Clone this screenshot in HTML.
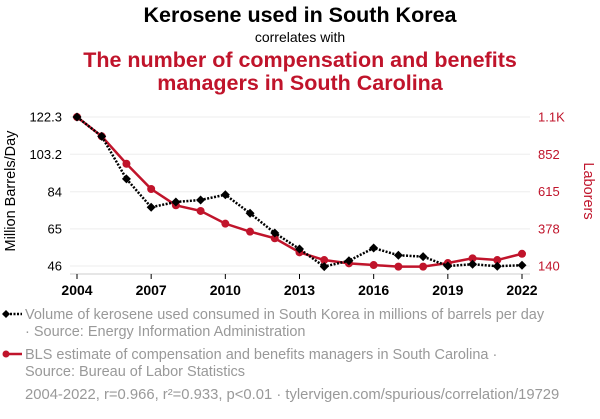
<!DOCTYPE html>
<html><head><meta charset="utf-8">
<style>
body{margin:0;background:#fff;width:600px;height:414px;overflow:hidden;font-family:"Liberation Sans",sans-serif;}
</style></head>
<body>
<svg width="600" height="414" viewBox="0 0 600 414" xmlns="http://www.w3.org/2000/svg">
<text x="300" y="22" text-anchor="middle" font-size="21.5" font-weight="bold" fill="#000">Kerosene used in South Korea</text>
<text x="300" y="42" text-anchor="middle" font-size="14" fill="#000">correlates with</text>
<text x="300" y="67" text-anchor="middle" font-size="21.5" font-weight="bold" fill="#c0142b">The number of compensation and benefits</text>
<text x="300" y="90" text-anchor="middle" font-size="21.5" font-weight="bold" fill="#c0142b">managers in South Carolina</text>
<g id="grid"></g>
<g id="axes"></g>
<g id="series"></g>
<text transform="translate(15,191) rotate(-90)" text-anchor="middle" font-size="14.5" fill="#000">Million Barrels/Day</text>
<text transform="translate(584,191) rotate(90)" text-anchor="middle" font-size="14.5" fill="#c0142b">Laborers</text>
<g>
<line x1="3" y1="314" x2="22" y2="314" stroke="#000" stroke-width="2.5" stroke-dasharray="2,1.5"/>
<path d="M6 310 L10 314 L6 318 L2 314Z" fill="#000"/>
<text x="25" y="319" font-size="14.5" fill="#999">Volume of kerosene used consumed in South Korea in millions of barrels per day</text>
<text x="25" y="336" font-size="14.5" fill="#999">· Source: Energy Information Administration</text>
</g>
<g>
<line x1="3" y1="354" x2="22" y2="354" stroke="#c0142b" stroke-width="2.5"/>
<circle cx="6" cy="354" r="3.5" fill="#c0142b"/>
<text x="25" y="359" font-size="14.5" fill="#999">BLS estimate of compensation and benefits managers in South Carolina ·</text>
<text x="25" y="376" font-size="14.5" fill="#999">Source: Bureau of Labor Statistics</text>
</g>
<text x="25" y="399" font-size="14.8" fill="#999">2004-2022, r=0.966, r²=0.933, p&lt;0.01 · tylervigen.com/spurious/correlation/19729</text>
</svg>
<script>
const years=[2004,2005,2006,2007,2008,2009,2010,2011,2012,2013,2014,2015,2016,2017,2018,2019,2020,2021,2022];
const kerosene=[122.3,112.4,90.6,76.1,78.8,79.8,82.5,73,62.9,54.7,45.7,48.7,55.2,51.5,50.8,46,46.9,45.9,46.4];
const managers=[1090,967,792,631,527,491,410,359,317,227,178,157,146,136,136,159,189,178,218];
const leftTicks=[46,65,84,103.2,122.3];
const leftTickLabels=["46","65","84","103.2","122.3"];
const rightTicks=[140,377.5,615,852.5,1090];
const rightTickLabels=["140","378","615","852","1.1K"];
const xTicks=[2004,2007,2010,2013,2016,2019,2022];
const NS="http://www.w3.org/2000/svg";
const X=v=>77+(v-2004)/(2022-2004)*445;
const YL=v=>266-(v-46)/(122.3-46)*149;
const YR=v=>266-(v-140)/(1090-140)*149;
function mk(tag,attrs,parent){const e=document.createElementNS(NS,tag);for(const k in attrs)e.setAttribute(k,attrs[k]);parent.appendChild(e);return e;}
const grid=document.getElementById('grid'),axes=document.getElementById('axes'),ser=document.getElementById('series');
leftTicks.forEach((t,i)=>{
  const y=YL(t);
  const g=mk('line',{x1:70,x2:530,y1:y,y2:y,stroke:'#eeeeee','stroke-width':1},grid);
  
  
  const tl=mk('text',{x:62,y:y+4.5,'text-anchor':'end','font-size':13,fill:'#000'},axes);
  tl.textContent=leftTickLabels[i];
  
  
});
rightTicks.forEach((t,i)=>{
  const y=YR(t);
  const tl=mk('text',{x:538,y:y+4.5,'text-anchor':'start','font-size':13,fill:'#c0142b'},axes);
  tl.textContent=rightTickLabels[i];
  
  
});
const ax=mk('line',{x1:70,x2:530,y1:274,y2:274,stroke:'#ccc','stroke-width':1},axes);


xTicks.forEach(t=>{
  const x=X(t);
  const tk=mk('line',{x1:x,x2:x,y1:274,y2:279,stroke:'#000','stroke-width':1},axes);
  
  
  const tl=mk('text',{x:x,y:295,'text-anchor':'middle','font-size':14,'font-weight':'bold',fill:'#000'},axes);
  tl.textContent=String(t);
  
  
});
const rp=mk('polyline',{points:years.map((y,i)=>X(y)+','+YR(managers[i])).join(' '),fill:'none',stroke:'#c0142b','stroke-width':2.5},ser);


years.forEach((y,i)=>{
  const c=mk('circle',{cx:X(y),cy:YR(managers[i]),r:4,fill:'#c0142b'},ser);
  
  
});
const kp=mk('polyline',{points:years.map((y,i)=>X(y)+','+YL(kerosene[i])).join(' '),fill:'none',stroke:'#000','stroke-width':2.5,'stroke-dasharray':'2,1.5'},ser);


years.forEach((y,i)=>{
  const x=X(y),v=YL(kerosene[i]);
  const d=mk('path',{d:`M${x} ${v-4.5} L${x+4.5} ${v} L${x} ${v+4.5} L${x-4.5} ${v}Z`,fill:'#000'},ser);
  
  
});
</script>
</body></html>
